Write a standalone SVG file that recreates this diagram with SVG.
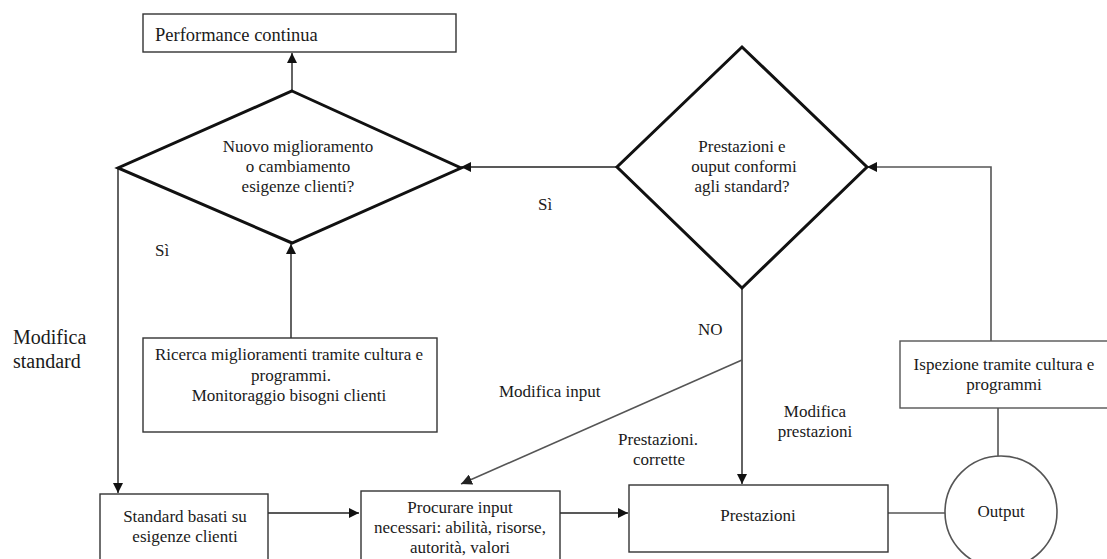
<svg xmlns="http://www.w3.org/2000/svg" width="1107" height="559" viewBox="0 0 1107 559">
<style>
text{font-family:"Liberation Serif","Times New Roman",serif;font-size:17px;fill:#1a1a1a}
.c{text-anchor:middle}
.box{fill:#fff;stroke:#333;stroke-width:1.4}
.dia{fill:#fff;stroke:#111;stroke-width:3;stroke-linejoin:miter}
.ln{fill:none;stroke:#222;stroke-width:1.4}
.gr{fill:none;stroke:#555;stroke-width:1.6}
</style>
<defs>
<marker id="ah" viewBox="0 0 10 10" refX="10" refY="5" markerWidth="10" markerHeight="10" markerUnits="userSpaceOnUse" orient="auto">
<path d="M0,0 L10,5 L0,10 z" fill="#111"/>
</marker>
<marker id="ahg" viewBox="0 0 10 10" refX="10" refY="5" markerWidth="11" markerHeight="11" markerUnits="userSpaceOnUse" orient="auto">
<path d="M0,0 L10,5 L0,10 z" fill="#222"/>
</marker>
</defs>
<rect width="1107" height="559" fill="#fff"/>
<g id="connectors">
<line class="ln" x1="292" y1="91" x2="292" y2="53" marker-end="url(#ah)"/>
<line class="ln" x1="617" y1="167" x2="461" y2="167" marker-end="url(#ah)"/>
<polyline class="gr" points="991,341 991,167 867,167" marker-end="url(#ah)"/>
<line class="ln" x1="118" y1="168" x2="118" y2="493" marker-end="url(#ah)"/>
<line class="ln" x1="291" y1="338" x2="291" y2="244" marker-end="url(#ah)"/>
<line class="ln" x1="742" y1="288" x2="742" y2="484" marker-end="url(#ah)"/>
<line class="gr" x1="742" y1="360" x2="461" y2="484" marker-end="url(#ahg)"/>
<line class="ln" x1="268" y1="513" x2="359" y2="513" marker-end="url(#ah)"/>
<line class="ln" x1="560" y1="513" x2="628" y2="513" marker-end="url(#ah)"/>
<line class="gr" x1="888" y1="513" x2="945" y2="513"/>
<line class="gr" x1="998" y1="408" x2="998" y2="456"/>
</g>
<g id="performance">
<rect class="box" x="143" y="14" width="313" height="38"/>
<text x="155" y="41" style="font-size:18.5px">Performance continua</text>
</g>
<g id="decision-nuovo">
<polygon class="dia" points="292,91 461,168 292,243 118,168"/>
<text class="c" x="298" y="152">Nuovo miglioramento</text>
<text class="c" x="298" y="172">o cambiamento</text>
<text class="c" x="298" y="192">esigenze clienti?</text>
</g>
<g id="decision-conformi">
<polygon class="dia" points="742,47 867,167 742,288 617,167"/>
<text class="c" x="742" y="152">Prestazioni e</text>
<text class="c" x="744" y="172">ouput conformi</text>
<text class="c" x="742" y="192">agli standard?</text>
</g>
<g id="ricerca">
<rect class="box" x="143" y="338" width="294" height="94"/>
<text class="c" x="289" y="360">Ricerca miglioramenti tramite cultura e</text>
<text class="c" x="291" y="381">programmi.</text>
<text class="c" x="289" y="401">Monitoraggio bisogni clienti</text>
</g>
<g id="standard">
<rect class="box" x="100" y="494" width="168" height="70"/>
<text class="c" x="185" y="522">Standard basati su</text>
<text class="c" x="185" y="542">esigenze clienti</text>
</g>
<g id="procurare">
<rect class="box" x="361" y="491" width="199" height="75"/>
<text class="c" x="460" y="513">Procurare input</text>
<text class="c" x="460" y="533">necessari: abilità, risorse,</text>
<text class="c" x="460" y="553">autorità, valori</text>
</g>
<g id="prestazioni">
<rect class="box" x="629" y="485" width="259" height="67"/>
<text class="c" x="758" y="521">Prestazioni</text>
</g>
<g id="output">
<ellipse class="gr" cx="1001" cy="512" rx="56" ry="56" fill="#fff"/>
<text class="c" x="1001" y="517">Output</text>
</g>
<g id="ispezione">
<rect class="box" x="900" y="341" width="212" height="67" style="stroke:#555"/>
<text class="c" x="1004" y="370">Ispezione tramite cultura e</text>
<text class="c" x="1004" y="390">programmi</text>
</g>
<g id="labels">
<text x="155" y="256">Sì</text>
<text x="538" y="210">Sì</text>
<text x="698" y="335">NO</text>
<text x="13" y="344" style="font-size:20px">Modifica</text>
<text x="13" y="368" style="font-size:20px">standard</text>
<text x="499" y="397">Modifica input</text>
<text class="c" x="658" y="445">Prestazioni.</text>
<text class="c" x="659" y="465">corrette</text>
<text class="c" x="815" y="417">Modifica</text>
<text class="c" x="815" y="437">prestazioni</text>
</g>
</svg>
